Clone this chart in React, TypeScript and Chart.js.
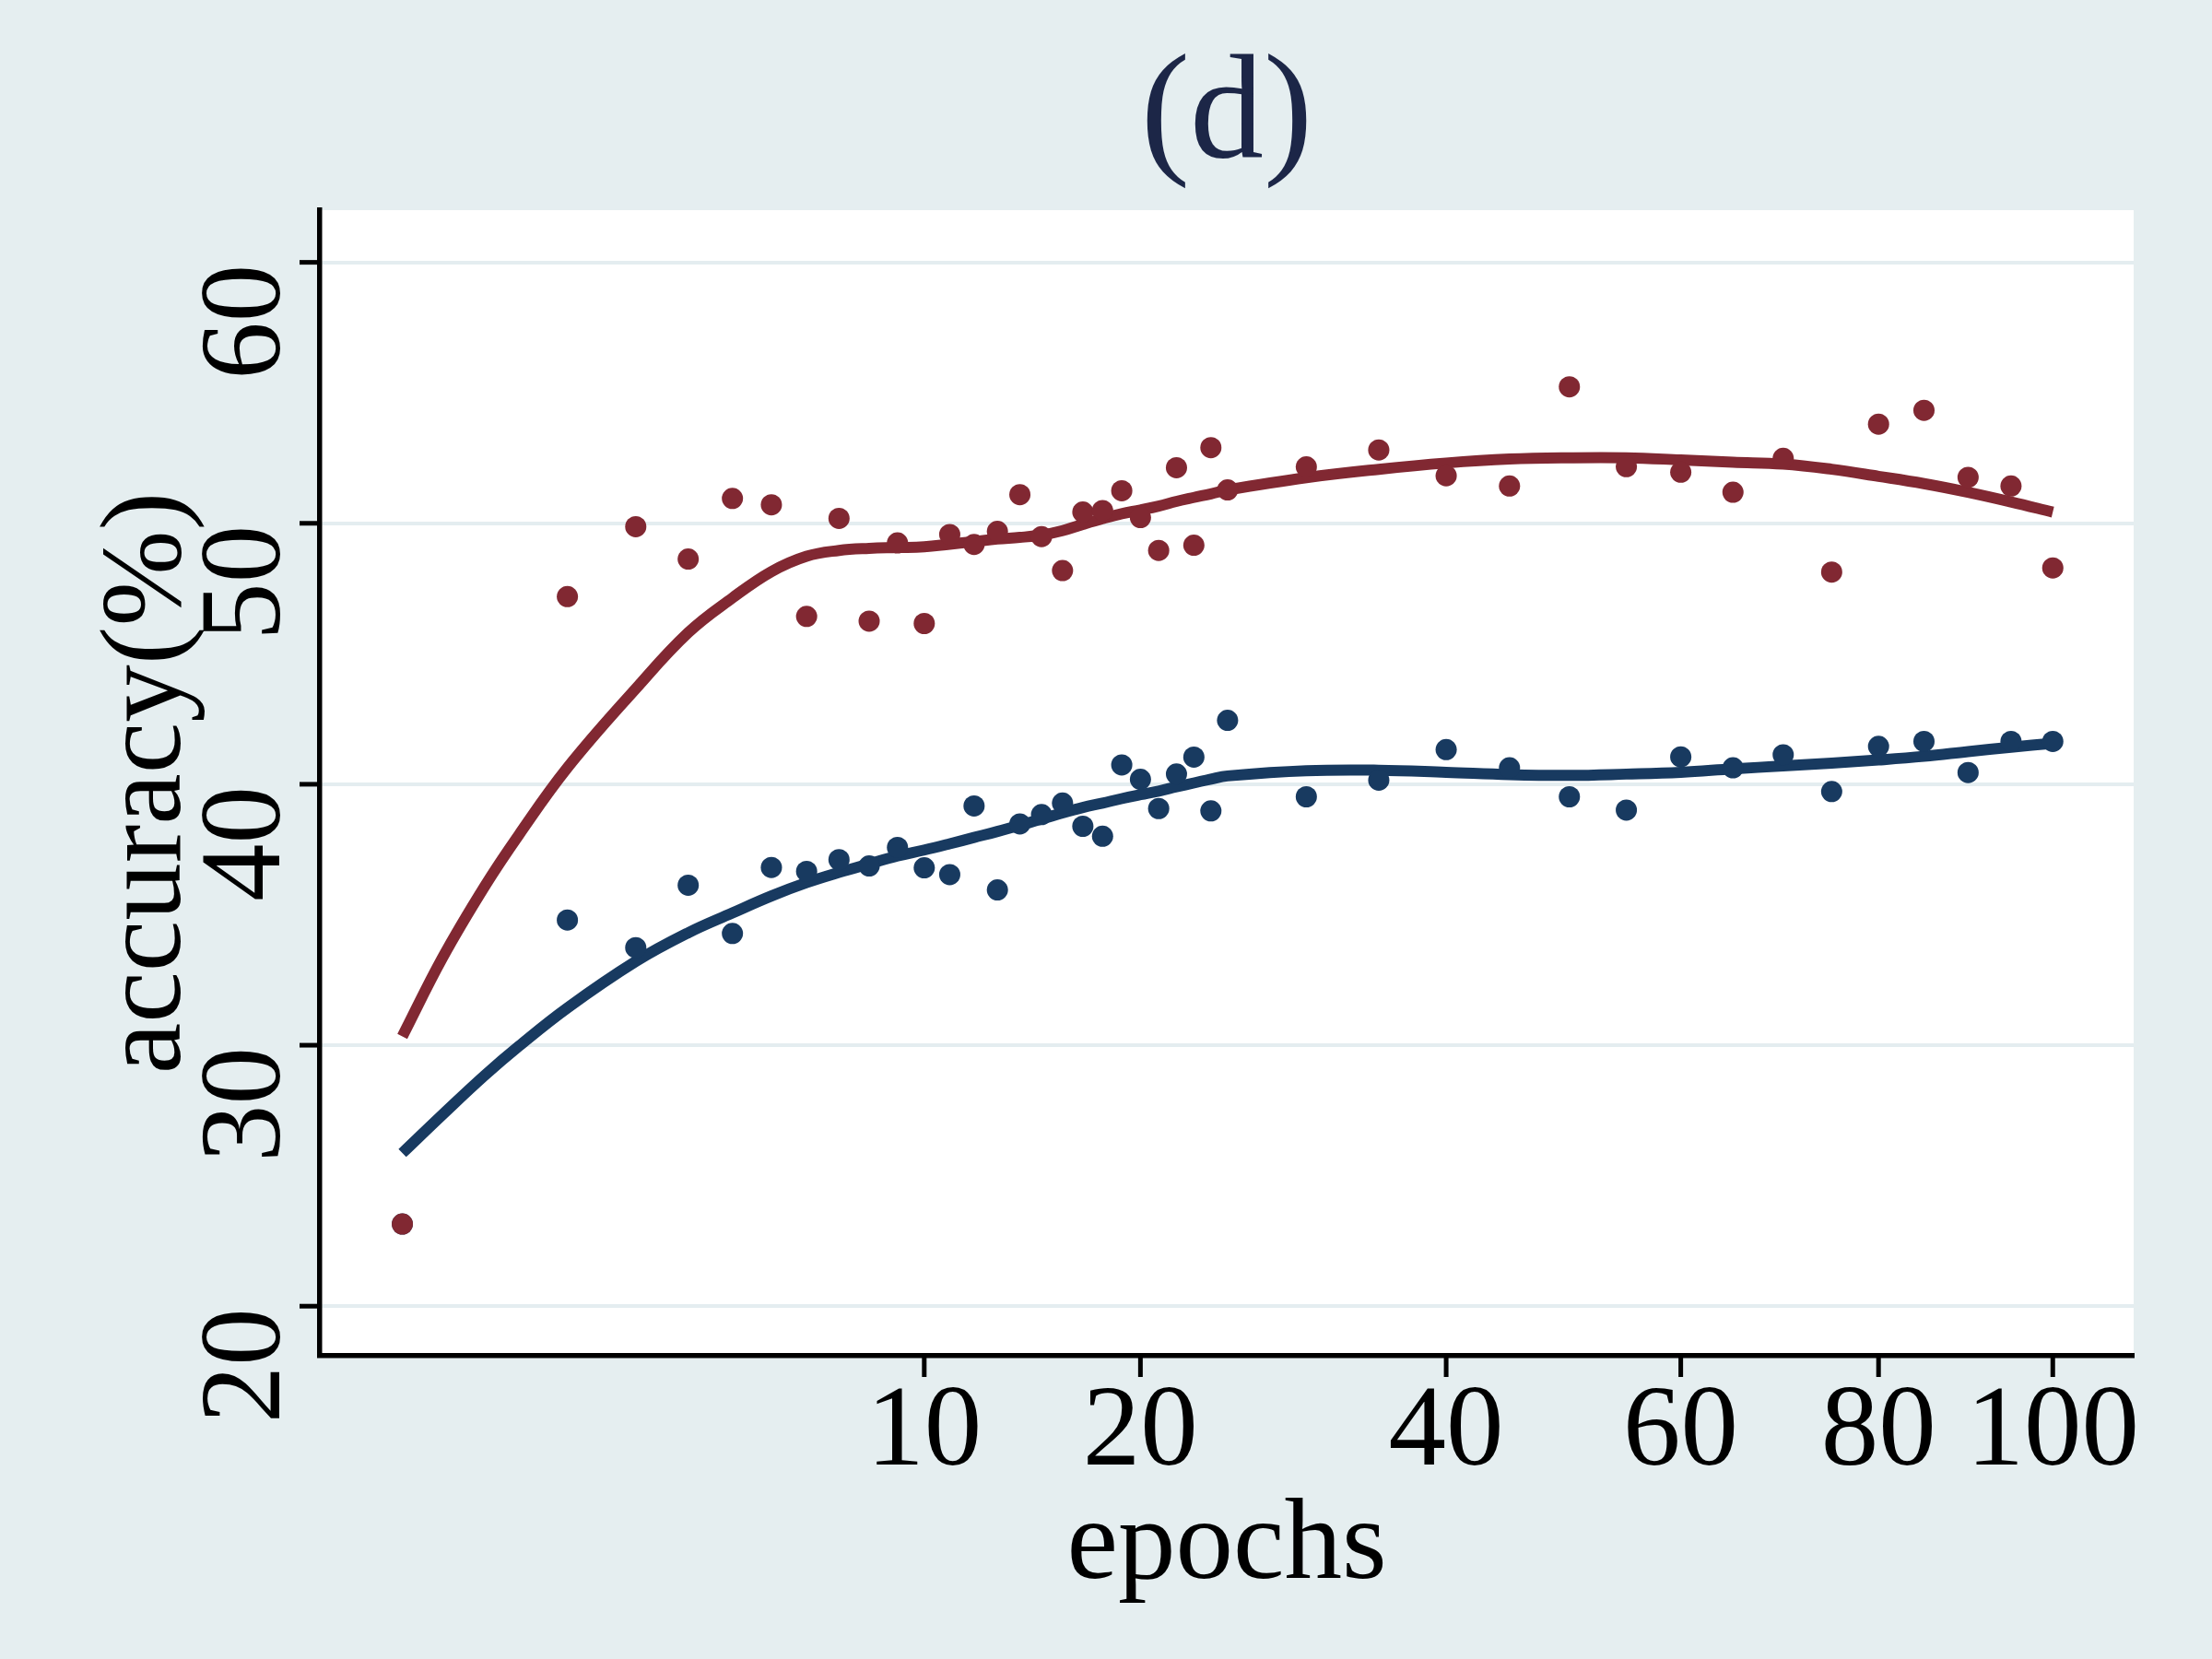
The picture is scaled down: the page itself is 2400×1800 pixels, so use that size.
import { useEffect, useRef } from "react";
import { Chart, registerables } from "chart.js";

Chart.register(...registerables);

// epochs of the scatter points
const pointEpochs = [
  0, 1, 2, 3, 4, 5, 6, 7, 8, 9, 10, 11, 12, 13, 14, 15, 16, 17, 18, 19, 20, 21, 22, 23, 24, 25,
  30, 35, 40, 45, 50, 55, 60, 65, 70, 75, 80, 85, 90, 95, 100,
];
const redPoints = [
  23.15, 47.19, 49.87, 48.63, 50.95, 50.71, 46.43, 50.19, 46.25, 49.25, 46.16, 49.57, 49.19, 49.69,
  51.1, 49.49, 48.19, 50.43, 50.49, 51.25, 50.22, 48.96, 52.13, 49.16, 52.9, 51.28,
  52.16, 52.81, 51.82, 51.43, 55.23, 52.17, 51.96, 51.19, 52.49, 48.13, 53.8, 54.33, 51.76, 51.43, 48.29,
];
const bluePoints = [
  23.15, 34.8, 33.74, 36.13, 34.28, 36.81, 36.66, 37.11, 36.87, 37.58, 36.8, 36.54, 39.17, 35.95,
  38.48, 38.84, 39.28, 38.39, 38.01, 40.74, 40.19, 39.07, 40.39, 41.04, 38.98, 42.45,
  39.52, 40.16, 41.33, 40.63, 39.52, 39.01, 41.05, 40.63, 41.13, 39.72, 41.45, 41.64, 40.45, 41.64, 41.64,
];

// smoothed (lowess) curves
const lineEpochs = [
  0, 0.06, 0.25, 0.5, 1, 2, 3, 4, 5, 6, 7, 8, 9, 10, 11, 12, 13, 14, 15, 16, 17, 18, 19, 20,
  21, 22, 23, 24, 25, 30, 35, 40, 45, 50, 55, 60, 65, 70, 75, 80, 85, 90, 95, 100,
];
const redLine = [
  30.34, 33.37, 36.1, 38.07, 40.63, 43.66, 45.81, 47.14, 48.15, 48.74, 48.96, 49.04, 49.07,
  49.1, 49.2, 49.3, 49.4, 49.46, 49.55, 49.72, 49.96, 50.18, 50.37, 50.51,
  50.66, 50.84, 50.99, 51.13, 51.28, 51.75, 52.07, 52.31, 52.46, 52.51, 52.51, 52.43, 52.34, 52.27, 52.07,
  51.8, 51.52, 51.19, 50.82, 50.43,
];
const blueLine = [
  25.87, 27.35, 28.85, 29.97, 31.43, 33.21, 34.31, 35.07, 35.72, 36.23, 36.62, 36.95, 37.25,
  37.48, 37.72, 37.96, 38.19, 38.43, 38.66, 38.9, 39.11, 39.28, 39.45, 39.6,
  39.74, 39.9, 40.05, 40.2, 40.32, 40.52, 40.54, 40.46, 40.37, 40.34, 40.39, 40.46, 40.59, 40.7, 40.81,
  40.93, 41.07, 41.25, 41.42, 41.57,
];

const yTicks = [20, 30, 40, 50, 60];
const xTicks = [10, 20, 40, 60, 80, 100];

const RED = "#812832";
const BLUE = "#183a60";
const BG = "#e5eef0";
const FONT = '"Liberation Serif", "Times New Roman", serif';

// x axis is square-root scaled
const toXY = (epochs: number[], vals: number[]) =>
  epochs.map((e, i) => ({ x: Math.sqrt(e), y: vals[i] }));

const decor = {
  id: "decor",
  beforeDraw(chart: Chart) {
    const { ctx, chartArea: a } = chart;
    ctx.save();
    ctx.fillStyle = "#ffffff";
    ctx.fillRect(a.left, a.top, a.right - a.left, a.bottom - a.top);
    ctx.restore();
  },
  afterDraw(chart: Chart) {
    const { ctx, chartArea: a, scales } = chart;
    const xs = scales.x;
    const ys = scales.y;
    ctx.save();
    ctx.strokeStyle = "#000";
    ctx.lineWidth = 5;
    yTicks.forEach((v) => {
      const y = ys.getPixelForValue(v);
      ctx.beginPath();
      ctx.moveTo(a.left - 22, y);
      ctx.lineTo(a.left, y);
      ctx.stroke();
    });
    xTicks.forEach((t) => {
      const x = xs.getPixelForValue(Math.sqrt(t));
      ctx.beginPath();
      ctx.moveTo(x, a.bottom);
      ctx.lineTo(x, a.bottom + 23);
      ctx.stroke();
    });

    ctx.fillStyle = "#000";
    ctx.font = `125px ${FONT}`;
    ctx.textBaseline = "alphabetic";
    // rotated y tick labels, ending at the tick
    yTicks.forEach((v) => {
      const y = ys.getPixelForValue(v);
      ctx.save();
      ctx.translate(a.left - 44, y + 2);
      ctx.rotate(-Math.PI / 2);
      ctx.textAlign = "right";
      ctx.fillText(String(v), 0, 0);
      ctx.restore();
    });
    // y title
    ctx.save();
    ctx.translate(a.left - 152, (a.top + a.bottom) / 2);
    ctx.rotate(-Math.PI / 2);
    ctx.textAlign = "center";
    ctx.fillText("accuracy(%)", 0, 0);
    ctx.restore();

    ctx.textAlign = "center";
    xTicks.forEach((t) => {
      ctx.fillText(String(t), xs.getPixelForValue(Math.sqrt(t)), a.bottom + 118);
    });
    const cx = (a.left + a.right) / 2;
    ctx.fillText("epochs", cx, a.bottom + 241);

    ctx.fillStyle = "#1c2647";
    ctx.font = `160px ${FONT}`;
    ctx.fillText("(d)", cx, 170);
    ctx.restore();
  },
};

export default function App() {
  const canvasRef = useRef<HTMLCanvasElement>(null);
  const chartRef = useRef<Chart | null>(null);

  useEffect(() => {
    if (!canvasRef.current) return;
    if (chartRef.current) chartRef.current.destroy();

    chartRef.current = new Chart(canvasRef.current, {
      type: "line",
      data: {
        datasets: [
          {
            data: toXY(pointEpochs, redPoints),
            showLine: false,
            pointRadius: 11.5,
            pointBorderWidth: 0,
            pointBackgroundColor: RED,
            borderColor: RED,
          },
          {
            data: toXY(pointEpochs, bluePoints),
            showLine: false,
            pointRadius: 11.5,
            pointBorderWidth: 0,
            pointBackgroundColor: BLUE,
            borderColor: BLUE,
          },
          {
            data: toXY(lineEpochs, redLine),
            borderColor: RED,
            borderWidth: 12,
            pointRadius: 0,
            tension: 0.4,
          },
          {
            data: toXY(lineEpochs, blueLine),
            borderColor: BLUE,
            borderWidth: 12,
            pointRadius: 0,
            tension: 0.4,
          },
        ],
      },
      options: {
        animation: false,
        responsive: true,
        maintainAspectRatio: false,
        layout: { padding: { left: 347, right: 85, top: 228, bottom: 329 } },
        plugins: { legend: { display: false }, tooltip: { enabled: false }, title: { display: false } },
        scales: {
          x: {
            type: "linear",
            min: -0.5,
            max: 10.49,
            grid: { display: false, drawTicks: false, tickLength: 0 },
            ticks: { display: false },
            border: { display: true, color: "#000", width: 5.5 },
          },
          y: {
            type: "linear",
            min: 18.1,
            max: 62,
            afterBuildTicks: (scale) => {
              scale.ticks = yTicks.map((v) => ({ value: v }));
            },
            grid: { color: "#e4edf0", lineWidth: 4, drawTicks: false, tickLength: 0 },
            ticks: { display: false },
            border: { display: true, color: "#000", width: 5.5 },
          },
        },
      },
      plugins: [decor],
    });

    return () => {
      if (chartRef.current) {
        chartRef.current.destroy();
        chartRef.current = null;
      }
    };
  }, []);

  return (
    <div style={{ position: "fixed", left: 0, top: 0, width: 2400, height: 1800, background: BG }}>
      <canvas ref={canvasRef}></canvas>
    </div>
  );
}
